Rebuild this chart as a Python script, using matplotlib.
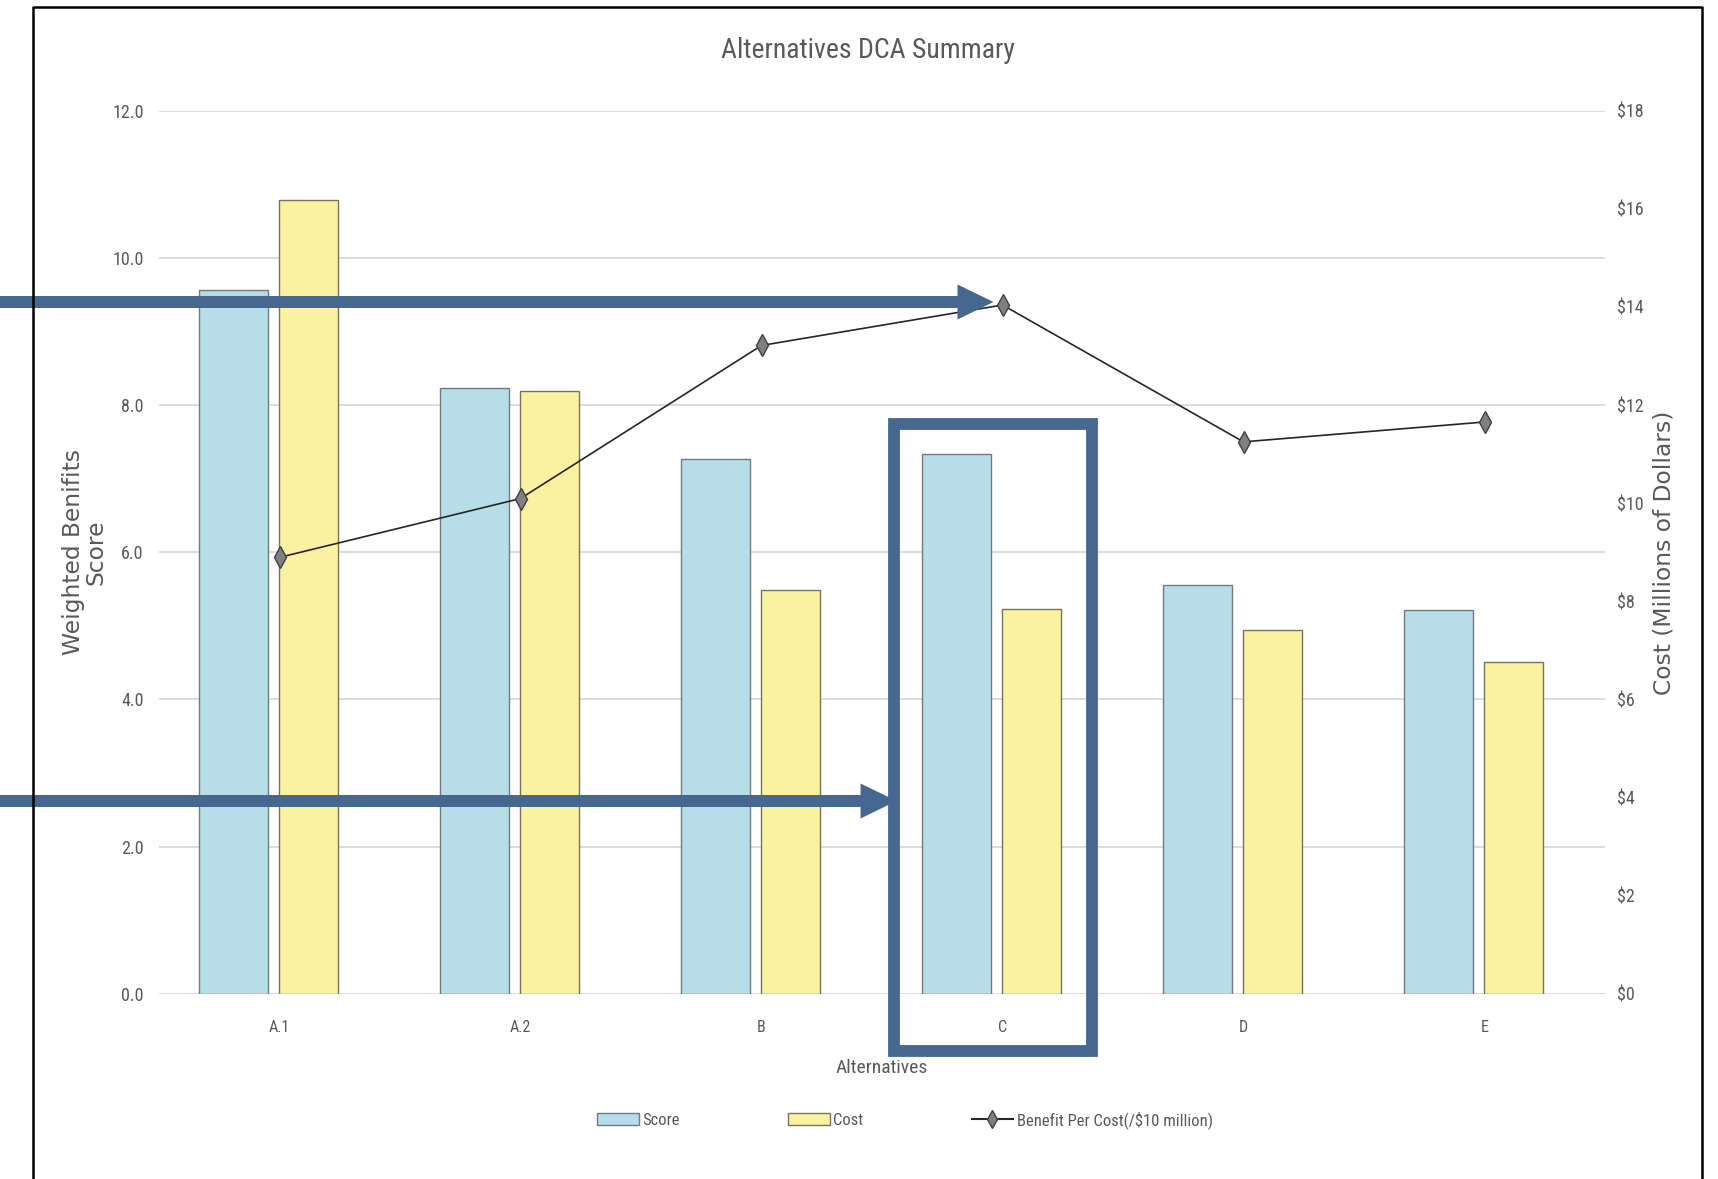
import matplotlib
matplotlib.use("Agg")
import matplotlib.pyplot as plt
import numpy as np
from matplotlib.patches import Patch, FancyArrow, Rectangle
from matplotlib.lines import Line2D

alternatives = ["A.1", "A.2", "B", "C", "D", "E"]
score = [9.56, 8.23, 7.27, 7.34, 5.55, 5.21]          # weighted benefits score
cost = [16.17, 12.28, 8.24, 7.84, 7.41, 6.77]         # millions of dollars
benefit_per_cost = [5.93, 6.73, 8.81, 9.36, 7.50, 7.77]  # per $10 million
highlight = "C"

narrow = ["Liberation Sans Narrow", "Roboto Condensed", "DejaVu Sans"]
plt.rcParams["font.family"] = narrow
grey_txt = "#595959"
callout = "#46678f"

W, H = 1718, 1179
fig = plt.figure(figsize=(W / 100, H / 100), dpi=100)
ax = fig.add_axes([159 / W, 1 - 993.8 / H, 1446 / W, 883.1 / H])
ax2 = ax.twinx()
ax3 = ax.twinx()  # line series on top of both bar sets, same scale as score

x = np.arange(len(alternatives))

ax.set_ylim(0, 12)
ax2.set_ylim(0, 18)
ax3.set_ylim(0, 12)
for a in (ax, ax2, ax3):
    a.set_xlim(-0.5, len(alternatives) - 0.5)
    for s in a.spines.values():
        s.set_visible(False)

ax.set_yticks(np.arange(0, 12.1, 2))
ax.set_yticklabels([f"{v:.1f}" for v in np.arange(0, 12.1, 2)])
ax.grid(axis="y", color="#d9d9d9", lw=1.3)
ax.set_axisbelow(True)
ax.tick_params(axis="y", length=0, pad=11, labelsize=13, labelcolor=grey_txt)
ax.set_xticks(x)
ax.set_xticklabels(alternatives)
ax.tick_params(axis="x", length=0, pad=19, labelsize=11.5, labelcolor=grey_txt)

ax2.set_yticks(np.arange(0, 18.1, 2))
ax2.set_yticklabels([f"${v:.0f}" for v in np.arange(0, 18.1, 2)])
ax2.tick_params(axis="y", length=0, pad=9, labelsize=13, labelcolor=grey_txt)
ax3.set_yticks([])

ax.bar(x - 0.191, score, width=0.286, color="#b7dde8", edgecolor="#6f7c80", lw=1.0, zorder=2)
ax2.bar(x + 0.122, cost, width=0.245, color="#faf2a0", edgecolor="#77745a", lw=1.0, zorder=2)
ax3.plot(x, benefit_per_cost, color="#262626", lw=1.2, marker="d", markersize=11,
         markerfacecolor="#808080", markeredgecolor="#404040", markeredgewidth=1.0, zorder=3)

fig.text(868 / W, 1 - 51 / H, "Alternatives DCA Summary", ha="center", va="center",
         fontsize=20, color=grey_txt)
fig.text(882 / W, 1 - 1068 / H, "Alternatives", ha="center", va="center",
         fontsize=14, color=grey_txt)
fig.text(85 / W, 1 - 552 / H, "Weighted Benifits\nScore", rotation=90, ha="center", va="center",
         fontsize=16.8, color=grey_txt, family="DejaVu Sans", linespacing=0.95)
fig.text(1664 / W, 1 - 553 / H, "Cost (Millions of Dollars)", rotation=90, ha="center", va="center",
         fontsize=16.8, color=grey_txt, family="DejaVu Sans")

handles = [
    Patch(facecolor="#b7dde8", edgecolor="#6f7c80"),
    Patch(facecolor="#faf2a0", edgecolor="#77745a"),
    Line2D([], [], color="#262626", lw=1.5, marker="d", markersize=9,
           markerfacecolor="#808080", markeredgecolor="#404040"),
]
fig.legend(handles, ["Score", "Cost", "Benefit Per Cost(/$10 million)"], loc="center",
           bbox_to_anchor=(905 / W, 1 - 1120 / H), ncol=3, frameon=False, fontsize=12,
           columnspacing=6.5, handlelength=2.5, handletextpad=0.2, labelcolor=grey_txt)

# callouts drawn on a full-figure overlay in display pixels
ov = fig.add_axes([0, 0, 1, 1], zorder=10)
ov.set_xlim(0, W)
ov.set_ylim(0, H)
ov.axis("off")

i = alternatives.index(highlight)
tip_x, tip_y = ax3.transData.transform((i, benefit_per_cost[i]))
tip_x -= 9
tip_y += 3
ov.add_patch(FancyArrow(0, tip_y, tip_x, 0, width=12, head_width=35, head_length=36,
                        length_includes_head=True, color=callout, lw=0))

gx0, _ = ax.transData.transform((i - 0.452, 0))
gx1, _ = ax.transData.transform((i + 0.373, 0))
_, gy1 = ax.transData.transform((0, score[i] + 0.4))
gy0 = H - 1051
ov.add_patch(Rectangle((gx0, gy0), gx1 - gx0, gy1 - gy0, fill=False, ec=callout, lw=8.5))

_, low_y = ax.transData.transform((0, 2.62))
ov.add_patch(FancyArrow(0, low_y, gx0 + 3, 0, width=12, head_width=35, head_length=36,
                        length_includes_head=True, color=callout, lw=0))

# outer frame, open at the bottom
ov.plot([33, 33, 1702, 1702], [0, H - 7, H - 7, 0], color="black", lw=1.8)

fig.savefig("out.png", dpi=100, facecolor="white")
